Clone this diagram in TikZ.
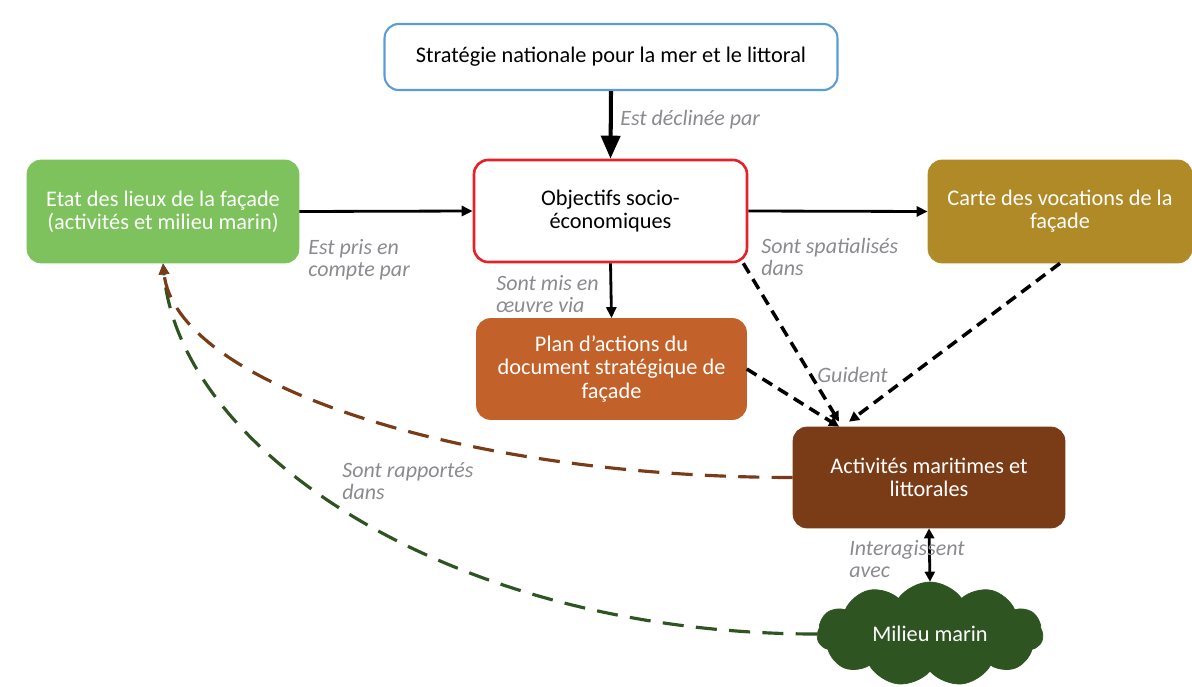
\documentclass[tikz,border=0pt]{standalone}
\usepackage{fontspec}
\setmainfont{Carlito}
\usepackage{tikz}
\usepackage{xcolor}
\definecolor{stratblue}{rgb}{0.36,0.61,0.84}
\definecolor{objred}{rgb}{0.91,0.13,0.16}
\definecolor{etatgreen}{rgb}{0.49,0.76,0.36}
\definecolor{cartegold}{rgb}{0.69,0.54,0.15}
\definecolor{planorange}{rgb}{0.76,0.38,0.16}
\definecolor{activbrown}{rgb}{0.48,0.23,0.09}
\definecolor{milieugreen}{rgb}{0.18,0.33,0.13}
\definecolor{labelgray}{rgb}{0.54,0.54,0.56}
\usetikzlibrary{arrows.meta}
\usetikzlibrary{shapes.symbols}
\usetikzlibrary{positioning}
\tikzset{
	box/.style={rectangle, rounded corners=8pt, align=center, inner sep=2pt,
		font=\fontsize{12.7}{13.2}\selectfont},
	colbox/.style={box, fill=#1, draw=#1, text=white},
	lbl/.style={anchor=west, align=left, inner sep=0pt, text=labelgray,
		font=\fontsize{12.5}{12.6}\selectfont\itshape},
	link/.style={line width=1.6pt, -{Triangle[length=0.22cm,width=0.2cm]}},
	guide/.style={line width=2pt, dash pattern=on 6.5pt off 4pt,
		-{Triangle[length=0.2cm,width=0.2cm]}},
	report/.style={line width=1.8pt, draw=#1, dash pattern=on 12pt off 7pt,
		-{Triangle[length=0.22cm,width=0.2cm,fill=#1]}}
}

\begin{document}
\begin{tikzpicture}[x=0.02cm, y=-0.02cm]
	\useasboundingbox (0,0) rectangle (1192,686);

	% Top
	\node[box, draw=stratblue, line width=1.2pt, fill=white,
		minimum width=9.06cm, minimum height=1.32cm] (strat) at (611,57)
		{Stratégie nationale pour la mer et le littoral};

	% Middle row
	\node[box, draw=objred, line width=1.5pt, fill=white,
		minimum width=5.46cm, minimum height=2.04cm] (obj) at (610.5,211)
		{Objectifs socio-\\économiques};
	\node[colbox=etatgreen, minimum width=5.44cm, minimum height=2.06cm] (etat) at (163,211.5)
		{Etat des lieux de la façade\\(activités et milieu marin)};
	\node[colbox=cartegold, minimum width=5.28cm, minimum height=2.06cm] (carte) at (1060,211.5)
		{Carte des vocations de la\\façade};

	% Lower boxes
	\node[colbox=planorange, minimum width=5.4cm, minimum height=2.02cm] (plan) at (611.5,369)
		{Plan d’actions du\\document stratégique de\\façade};
	\node[colbox=activbrown, minimum width=5.44cm, minimum height=2.02cm] (activ) at (929,477.5)
		{Activités maritimes et\\littorales};
	\node[cloud, cloud puffs=11, cloud puff arc=110, cloud ignores aspect, inner sep=0pt,
		fill=milieugreen, draw=milieugreen, text=white, font=\fontsize{12.7}{13.2}\selectfont,
		minimum width=4.52cm, minimum height=2.08cm] (milieu) at (930,634) {Milieu marin};

	% Solid links
	\draw[line width=2.3pt, -{Triangle[length=0.46cm,width=0.38cm]}] (strat.south) -- (obj.north);
	\draw[link] (etat.east) -- (obj.west);
	\draw[link] (obj.east) -- (carte.west);
	\draw[link] (obj.south) -- (plan.north);
	\draw[line width=1.6pt, {Triangle[length=0.2cm,width=0.2cm]}-{Triangle[length=0.2cm,width=0.2cm]}]
		(activ.south) -- (milieu.north);

	% Dashed links
	\draw[guide] ([xshift=-0.1cm]obj.south east) -- ([xshift=-1.8cm, yshift=0.1cm]activ.north);
	\draw[guide] (plan.east) -- ([xshift=-1.8cm]activ.north);
	\draw[guide] (carte.south) -- ([xshift=-1.6cm, yshift=0.1cm]activ.north);
	\draw[report=milieugreen] (milieu.west) .. controls (450,634) and (180,450) .. (etat.south);
	\draw[report=activbrown] (activ.west) .. controls (450,477) and (175,380) .. (etat.south);

	% Labels
	\node[lbl] (ldecl) at (620,120) {Est déclinée par};
	\node[lbl] (lpris) at (308,260) {Est pris en\\compte par};
	\node[lbl] (lmis) at (496,294) {Sont mis en\\œuvre via};
	\node[lbl] (lspat) at (761,257) {Sont spatialisés\\dans};
	\node[lbl] (lguid) at (817,375) {Guident};
	\node[lbl] (linter) at (849,559) {Interagissent\\avec};
	\node[lbl] (lrapp) at (342,481) {Sont rapportés\\dans};
\end{tikzpicture}
\end{document}
